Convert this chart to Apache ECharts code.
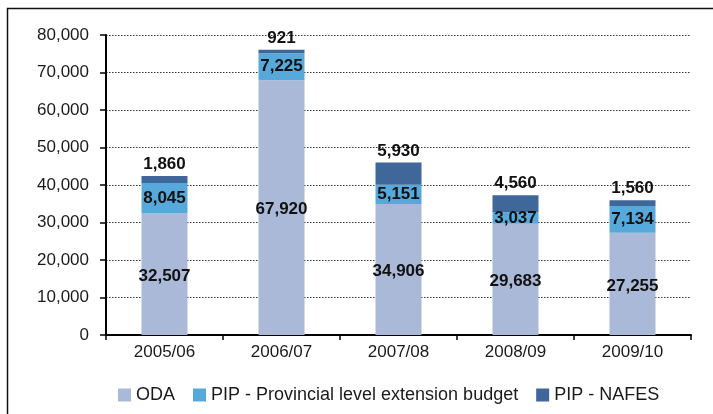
<!DOCTYPE html>
<html>
<head>
<meta charset="utf-8">
<script src="https://cdn.jsdelivr.net/npm/echarts@6/dist/echarts.min.js"></script>
<style>
  html, body { margin: 0; padding: 0; background: #fff; }
  #chart { width: 713px; height: 414px; }
</style>
</head>
<body>
<div id="chart"></div>
<script>
const categories = ['2005/06', '2006/07', '2007/08', '2008/09', '2009/10']
const oda = [32507, 67920, 34906, 29683, 27255]
const pipProvincial = [8045, 7225, 5151, 3037, 7134]
const pipNafes = [1860, 921, 5930, 4560, 1560]

const font = '"Liberation Sans", Arial, sans-serif'
const colors = { oda: '#aab9d8', prov: '#57a9dc', nafes: '#3f6799' }

const fmt = p => p.value.toLocaleString('en-US')

const labelStyle = {
  show: true,
  color: '#111',
  fontFamily: font,
  fontSize: 17,
  fontWeight: 'bold',
  formatter: fmt
}

const chart = echarts.init(document.getElementById('chart'))

chart.setOption({
  animation: false,
  textStyle: { fontFamily: font },
  graphic: [
    {
      type: 'rect',
      shape: { x: 7.5, y: 8.5, width: 800, height: 500 },
      style: { fill: 'none', stroke: '#111', lineWidth: 1.5 },
      silent: true
    }
  ],
  grid: { left: 106, right: 22, top: 35, bottom: 79 },
  legend: {
    left: 113,
    top: 381,
    itemWidth: 13,
    itemHeight: 13,
    itemGap: 18,
    icon: 'rect',
    textStyle: { fontSize: 18, color: '#1a1a1a', fontFamily: font },
    data: ['ODA', 'PIP - Provincial level extension budget', 'PIP - NAFES']
  },
  xAxis: {
    type: 'category',
    data: categories,
    axisLine: { lineStyle: { color: '#000', width: 2 } },
    axisTick: { show: true, length: 5, lineStyle: { color: '#000', width: 1.5 } },
    axisLabel: { color: '#1a1a1a', fontSize: 17, margin: 9, fontFamily: font }
  },
  yAxis: {
    type: 'value',
    min: 0,
    max: 80000,
    interval: 10000,
    axisLine: { show: true, lineStyle: { color: '#000', width: 2 } },
    axisTick: { show: true, length: 6, lineStyle: { color: '#000', width: 1.5 } },
    axisLabel: {
      color: '#1a1a1a',
      fontSize: 17,
      margin: 17,
      fontFamily: font,
      formatter: v => v.toLocaleString('en-US')
    },
    splitLine: { lineStyle: { color: '#333', type: [1.5, 1.5], width: 1 } }
  },
  series: [
    {
      name: 'ODA',
      type: 'bar',
      stack: 'total',
      barWidth: 46,
      data: oda,
      itemStyle: { color: colors.oda },
      label: { ...labelStyle, position: 'inside', offset: [0, 2] }
    },
    {
      name: 'PIP - Provincial level extension budget',
      type: 'bar',
      stack: 'total',
      data: pipProvincial,
      itemStyle: { color: colors.prov },
      label: { ...labelStyle, position: 'inside' }
    },
    {
      name: 'PIP - NAFES',
      type: 'bar',
      stack: 'total',
      data: pipNafes,
      itemStyle: { color: colors.nafes },
      label: { ...labelStyle, position: 'top', distance: 3 }
    }
  ]
})

window.addEventListener('resize', () => chart.resize())
</script>
</body>
</html>
